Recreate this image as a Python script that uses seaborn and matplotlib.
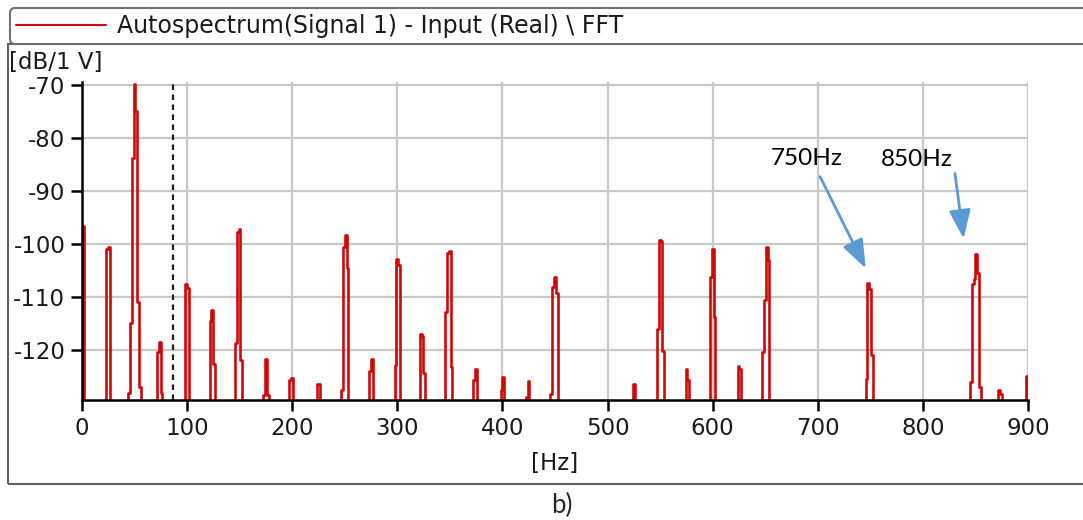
import numpy as np
import pandas as pd
import matplotlib.pyplot as plt
import seaborn as sns
from matplotlib.patches import Rectangle

# Spektrum: Peakzentren [Hz] und Pegel der einzelnen Bins [dB/1 V]
peak_hz = [1.4, 25, 50, 74, 100, 124, 149, 175, 199, 225, 250, 275, 300, 324,
           349, 374, 400, 424, 449, 525.5, 550.5, 576, 600, 625.5, 650.5, 749,
           850, 873.5, 899.2]
peak_db = [
    [-96.6],
    [-101.0, -100.5],
    [-128.0, -114.8, -83.8, -69.8, -74.9, -110.9, -127.0],
    [-120.3, -118.4, -128.0],
    [-107.6, -108.3],
    [-114.5, -112.5, -122.6],
    [-118.7, -97.8, -97.1, -121.9],
    [-128.5, -121.6, -128.5],
    [-125.7, -125.3],
    [-126.3, -126.3],
    [-127.5, -100.6, -98.2, -104.5],
    [-124.0, -121.6],
    [-122.8, -102.8, -104.0],
    [-116.9, -117.3, -124.4],
    [-112.8, -101.6, -101.3, -123.1],
    [-125.6, -123.6],
    [-127.5, -125.1],
    [-128.8, -125.9],
    [-128.3, -108.1, -106.2, -109.3],
    [-126.4],
    [-116.1, -99.3, -99.4, -120.1],
    [-123.6, -125.6],
    [-106.2, -101.0, -113.7],
    [-122.9, -123.6],
    [-120.3, -110.5, -100.6, -103.1],
    [-125.5, -107.3, -108.5, -120.9],
    [-126.0, -107.5, -106.6, -101.8, -105.5, -127.0],
    [-127.5, -128.2],
    [-124.9],
]
bin_hz = 1.7
floor_db = -140.0
cursor_hz = 87

x_ticks = list(range(0, 901, 100))
y_ticks = list(range(-120, -69, 10))
legend_label = 'Autospectrum(Signal 1) - Input (Real) \\ FFT'

# Tabelle fuer seaborn aufbauen
parts = []
for c, prof in zip(peak_hz, peak_db):
    n = len(prof)
    f = c + (np.arange(n) - (n - 1) / 2) * bin_hz
    parts.append(pd.DataFrame({
        'freq': np.r_[f[0] - bin_hz, f, f[-1] + bin_hz],
        'level': [floor_db] + list(prof) + [floor_db],
    }))
df = pd.concat(parts, ignore_index=True)

sns.set_style('whitegrid')
plt.rcParams['font.family'] = ['DejaVu Sans']
plt.rcParams['axes.unicode_minus'] = False

fig = plt.figure(figsize=(10.83, 5.2), dpi=100)
ax = fig.add_axes([82 / 1083, 1 - 400 / 520, 946 / 1083, 318 / 520])

sns.lineplot(data=df, x='freq', y='level', estimator=None, sort=False,
             drawstyle='steps-mid', color='#d00808', linewidth=1.9,
             label=legend_label, ax=ax)
if ax.get_legend() is not None:
    ax.get_legend().remove()

ax.axvline(cursor_hz, color='#202020', linestyle=(0, (2.5, 2)), linewidth=1.6)

ax.set_xlim(0, 900)
ax.set_ylim(-129.4, -69.45)
ax.set_xticks(x_ticks)
ax.set_yticks(y_ticks)
ax.grid(True, color='#c8c8c8', linewidth=1.6)
for s in ['top', 'right']:
    ax.spines[s].set_visible(False)
for s in ['left', 'bottom']:
    ax.spines[s].set_color('black')
    ax.spines[s].set_linewidth(1.8)
    ax.spines[s].set_zorder(3)
ax.tick_params(axis='both', bottom=True, left=True, direction='out', length=8,
               width=1.8, color='black', labelsize=16.5, labelcolor='#1a1a1a', pad=4)
ax.set_xlabel('[Hz]', fontsize=16.5, color='#1a1a1a', labelpad=9)
ax.set_ylabel('')

# Pfeile zu den Peaks
arrow_kw = dict(arrowstyle='-|>,head_length=0.8,head_width=0.3', color='#5b9bd5',
                lw=2, mutation_scale=22, shrinkA=0, shrinkB=0)
ax.annotate('', xy=(745.7, -104.6), xytext=(702.2, -87.3), arrowprops=arrow_kw,
            annotation_clip=False)
ax.annotate('', xy=(838.8, -99.0), xytext=(830.5, -86.7), arrowprops=arrow_kw,
            annotation_clip=False)
ax.text(655, -83.8, '750Hz', fontsize=17.5, family='Lato', color='black',
        va='center', ha='left')
ax.text(760, -84.0, '850Hz', fontsize=17.5, family='Lato', color='black',
        va='center', ha='left')

fig.text(9 / 1083, 1 - 62.5 / 520, '[dB/1 V]', fontsize=16.5, color='#1a1a1a',
         ha='left', va='center')
fig.text(562 / 1083, 1 - 505 / 520, 'b)', fontsize=18.5, family='Lato',
         ha='center', va='center')

# Rahmen und Legende
fig.patches.append(Rectangle((8 / 1083, 1 - 484 / 520), 1.0, 440 / 520,
                             transform=fig.transFigure, fill=False,
                             edgecolor='#606060', linewidth=1.5))
handles, labels = ax.get_legend_handles_labels()
leg = fig.legend(handles, labels, loc='upper left',
                 bbox_to_anchor=(10 / 1083, 1 - 8 / 520, 1.05, 0.0),
                 mode='expand', fancybox=True, framealpha=1, fontsize=17,
                 handlelength=3.8, handletextpad=0.5, borderpad=0.25,
                 borderaxespad=0, edgecolor='#707070')
leg.get_frame().set_linewidth(1.5)
for line in leg.get_lines():
    line.set_linewidth(1.5)
for t in leg.get_texts():
    t.set_color('#1a1a1a')

fig.savefig('out.png', dpi=100)
plt.close(fig)
